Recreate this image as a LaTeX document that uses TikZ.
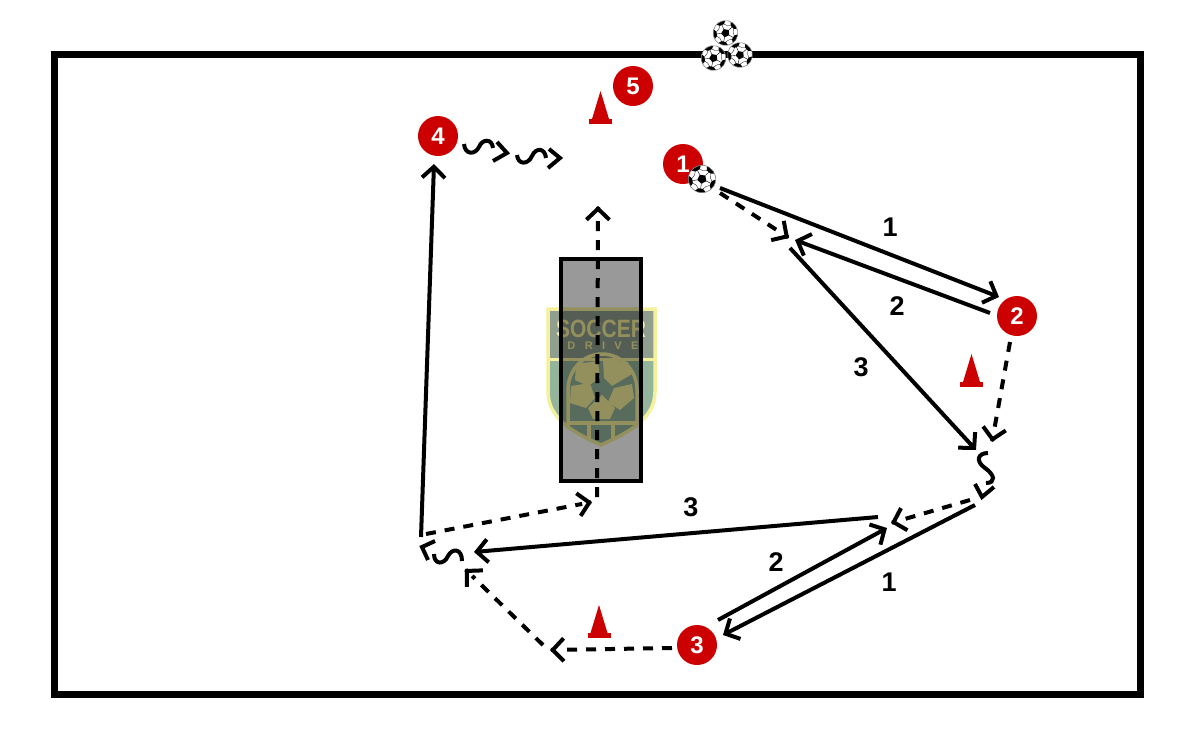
\documentclass[tikz,border=0pt]{standalone}
\usepackage{fontspec}
\setmainfont{Liberation Sans}
\usetikzlibrary{arrows.meta,calc}
\definecolor{redc}{HTML}{CC0000}
\definecolor{logoY}{HTML}{F5F09B}
\definecolor{logoT}{HTML}{8F9E8E}
\definecolor{logoG}{HTML}{92B59B}
\tikzset{
  player/.style={circle,fill=redc,minimum size=40pt,inner sep=0pt,outer sep=0pt,text=white,font=\bfseries\fontsize{24}{24}\selectfont},
  lab/.style={text=black,inner sep=0pt,font=\bfseries\fontsize{27}{27}\selectfont},
  chev/.tip={Straight Barb[length=11pt,width=23pt,line width=4pt]},
  pass/.style={line width=4pt,-chev},
  run/.style={line width=4pt,dash pattern=on 10pt off 9pt},
  runtip/.style={line width=4pt,-chev},
  squig/.style={line width=4pt},
  barb/.style={line width=4pt,miter limit=10},
  conef/.style={fill=redc},
  pics/ball/.style={code={
    \fill[white] (0,0) circle (1);
    \begin{scope}
      \clip (0,0) circle (1);
      \fill[black] (90:.35)--(162:.35)--(234:.35)--(306:.35)--(18:.35)--cycle;
      \foreach \a in {90,162,234,306,18}{
        \draw[black,line width=.4pt] (\a:.35)--(\a:.74);
        \fill[black] (\a-23:.98)--(\a-14:.73)--(\a+14:.73)--(\a+23:.98)--(\a:1.1)--cycle;
        \draw[black,line width=.3pt] (\a+14:.73)--(\a+36:.62)--(\a+58:.73);
      }
    \end{scope}
    \draw[black!50,line width=.6pt] (0,0) circle (1);
  }},
}
\newcommand{\cone}[2]{%
  \fill[conef] (#1,#2) -- (#1+8.5,#2+28) -- (#1-8.5,#2+28) -- cycle;
  \fill[conef] (#1-11.5,#2+28) rectangle (#1+11.5,#2+33);
}
\newcommand{\runarrow}[2]{%
  \draw[run] (#1) -- ($(#2)!10pt!(#1)$);
  \draw[runtip] ($(#2)!1pt!(#1)$) -- (#2);
}
\begin{document}
\begin{tikzpicture}[x=1pt,y=-1pt]
\useasboundingbox (0,0) rectangle (1200,750);
\fill[white] (0,0) rectangle (1200,750);

% field
\node[draw=black,line width=7pt,outer sep=0pt,minimum width=1086pt,minimum height=640pt,inner sep=0pt] (field) at (597.5,374) {};

% logo
\path[fill=logoG] (548,359) -- (655,359) -- (655,392) .. controls (655,420) and (625,434) .. (601,445) .. controls (577,434) and (548,420) .. (548,392) -- cycle;
\fill[logoT] (548,309) rectangle (655,359);
\draw[logoY,line width=3.5pt] (548,309) -- (655,309) -- (655,392) .. controls (655,420) and (625,434) .. (601,445) .. controls (577,434) and (548,420) .. (548,392) -- cycle;
\draw[logoY,line width=3pt] (548,359) -- (655,359);
\node[text=logoY,inner sep=0pt,xscale=.84,transform shape,font=\bfseries\fontsize{25}{25}\selectfont] (logotop) at (601,329) {SOCCER};
\node[text=logoY,inner sep=0pt,font=\bfseries\fontsize{11}{11}\selectfont\addfontfeature{LetterSpace=85}] (logodrive) at (603,345.5) {DRIVE};
\draw[logoY,line width=3.5pt] (568,428) -- (568,390) .. controls (568,370) and (583,354) .. (602,354) .. controls (621,354) and (637,370) .. (637,390) -- (637,426);
\draw[logoY,line width=3.5pt] (589,440) -- (589,423) -- (613,423) -- (613,438);
\draw[logoY,line width=3.5pt] (568,423) -- (589,423) (613,423) -- (637,423);
\fill[logoY] (576,364)--(598,361)--(600,378)--(588,386)--(575,380)--cycle;
\fill[logoY] (603,360)--(628,362)--(632,374)--(612,386)--(604,378)--cycle;
\fill[logoY] (571,386)--(590,383)--(595,398)--(586,408)--(570,403)--cycle;
\fill[logoY] (632,384)--(634,398)--(620,410)--(608,402)--(614,388)--cycle;
\fill[logoY] (602,395)--(615,408)--(610,419)--(593,419)--(588,408)--cycle;

% block
\fill[black,fill opacity=.4] (560,258) rectangle (642,482);
\node[draw=black,line width=4pt,outer sep=0pt,minimum width=80pt,minimum height=222pt,inner sep=0pt] (block) at (601,370) {};

% players
\node[player] (p1) at (683,164) {1};
\node[player] (p2) at (1017,316) {2};
\node[player] (p3) at (697,645) {3};
\node[player] (p4) at (438,136) {4};
\node[player] (p5) at (633,86) {5};

% cones
\cone{600.5}{91}
\cone{971.5}{354}
\cone{599}{605}

% balls
\pic[scale=13.7,rotate=-8] (bmain) at (702,179) {ball};
\pic[scale=12.4,rotate=-12] (ba) at (725.5,33) {ball};
\pic[scale=12.4,rotate=-12] (bb) at (713.5,58) {ball};
\pic[scale=12.4,rotate=-12] (bc) at (740,55) {ball};

% end points
\coordinate (a1) at (720,188);   \coordinate (a2) at (999,297);
\coordinate (b1) at (990,313);   \coordinate (b2) at (795,240);
\coordinate (c1) at (790,248);   \coordinate (c2) at (976,450);
\coordinate (d1) at (720,193);   \coordinate (d2) at (789,238);
\coordinate (e1) at (1010,342);  \coordinate (e2) at (992,442);
\coordinate (f1) at (970,500);   \coordinate (f2) at (891,523);
\coordinate (g1) at (975,505);   \coordinate (g2) at (723,635);
\coordinate (h1) at (718,620);   \coordinate (h2) at (887,528);
\coordinate (i1) at (878,517);   \coordinate (i2) at (474,552);
\coordinate (j1) at (672,648);   \coordinate (j2) at (550,650);
\coordinate (k1) at (543,645);   \coordinate (k2) at (465,569);
\coordinate (l1) at (421,537);   \coordinate (l2) at (434,164);
\coordinate (m1) at (426,534);   \coordinate (m2) at (592,502);
\coordinate (n1) at (597,497);   \coordinate (n2) at (598,206);

\draw[pass] (a1) -- (a2);
\draw[pass] (b1) -- (b2);
\draw[pass] (c1) -- (c2);
\runarrow{d1}{d2}
\runarrow{e1}{e2}
\runarrow{f1}{f2}
\draw[pass] (g1) -- (g2);
\draw[pass] (h1) -- (h2);
\draw[pass] (i1) -- (i2);
\runarrow{j1}{j2}
\runarrow{k1}{k2}
\draw[pass] (l1) -- (l2);
\runarrow{m1}{m2}
\runarrow{n1}{n2}

% dribbles
\draw[squig] (988,453) .. controls (978,453) and (975,461) .. (985,468) .. controls (995,475) and (996,483) .. (986,483);
\draw[barb] (975,484) -- (982,497) -- (994,487);
\draw[squig] (462,561) .. controls (462,548) and (452,548) .. (448,556) .. controls (444,565) and (434,565) .. (434,554);
\draw[barb] (435,541) -- (422,547) -- (428,560);
\draw[squig] (464,144) .. controls (465,155) and (475,155) .. (479,147) .. controls (482,139) and (492,138) .. (493,148);
\draw[barb] (497,142) -- (507,153) -- (493,161);
\draw[squig] (517,155) .. controls (518,165) and (528,165) .. (532,156) .. controls (536,147) and (545,148) .. (546,158);
\draw[barb] (549,149) -- (560,158) -- (548,168);

% labels
\node[lab] (t1) at (890,227) {1};
\node[lab] (t2) at (897,306) {2};
\node[lab] (t3) at (861,367) {3};
\node[lab] (t4) at (691,507) {3};
\node[lab] (t5) at (776,562) {2};
\node[lab] (t6) at (889,582) {1};
\end{tikzpicture}
\end{document}
